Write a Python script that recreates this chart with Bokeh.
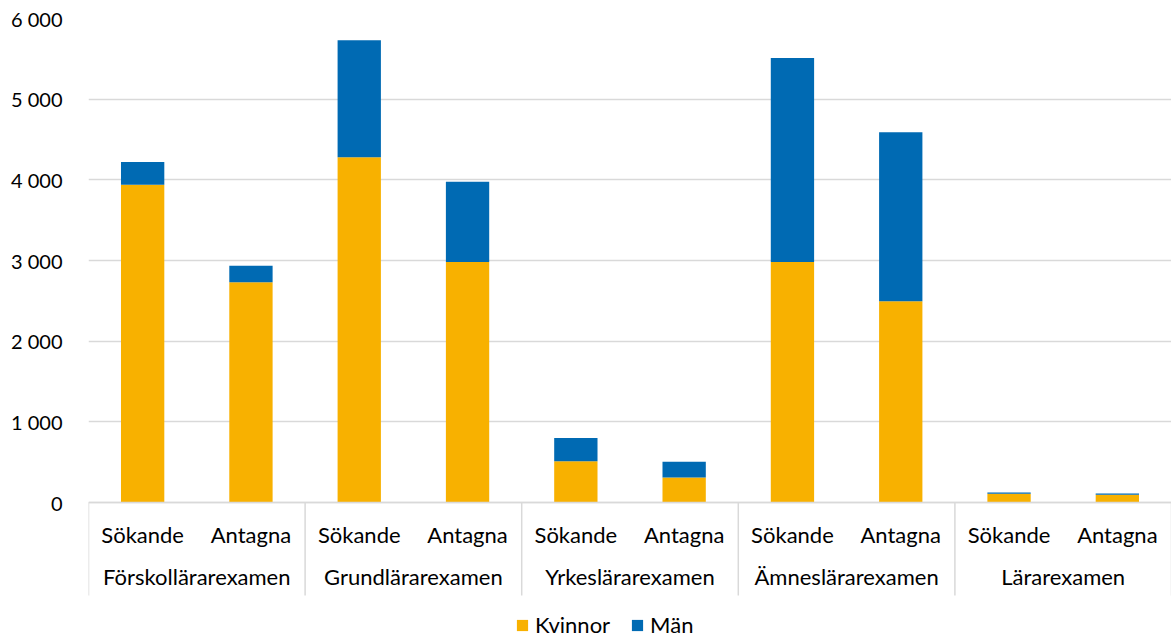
from bokeh.plotting import figure
from bokeh.models import FactorRange, Range1d, FixedTicker, ColumnDataSource
from bokeh.embed import file_html
from bokeh.resources import INLINE

groups = ["Förskollärarexamen", "Grundlärarexamen", "Yrkeslärarexamen", "Ämneslärarexamen", "Lärarexamen"]
subs = ["Sökande", "Antagna"]
kvinnor = [3940, 2730, 4280, 2980, 510, 310, 2980, 2495, 108, 95]
man = [280, 205, 1450, 995, 290, 195, 2530, 2095, 16, 17]
series = ["Kvinnor", "Män"]
colors = ["#F8B100", "#006AB3"]
y_ticks = [0, 1000, 2000, 3000, 4000, 5000, 6000]
y_tick_labels = ["0", "1 000", "2 000", "3 000", "4 000", "5 000", "6 000"]

FONT = "Lato"
FS = "22px"
GRID = "#D9D9D9"

factors = [(g, s) for g in groups for s in subs]
source = ColumnDataSource(data=dict(x=factors, Kvinnor=kvinnor, Män=man))

x_range = FactorRange(factors=factors, range_padding=0, group_padding=0, factor_padding=0)
px_per_unit = 484 / 6000
label_depth = 138 / px_per_unit
p = figure(width=1171, height=640, x_range=x_range,
           y_range=Range1d(-label_depth, 6000),
           output_backend="svg", toolbar_location=None,
           min_border_left=88, min_border_right=0, min_border_top=18, min_border_bottom=0)
p.outline_line_color = None

p.vbar_stack(series, x="x", width=0.4, source=source, color=colors,
             line_color=None, legend_label=series)

# separators below the axis
seps = [(g, subs[0], -0.5) for g in groups] + [(groups[-1], subs[-1], 0.5)]
sep_bottom = -93 / px_per_unit
p.segment(x0=seps, x1=seps, y0=[0] * len(seps), y1=[sep_bottom] * len(seps),
          line_color=GRID, line_width=1.5)

# y axis
ya = p.yaxis[0]
ya.ticker = FixedTicker(ticks=y_ticks)
ya.major_label_overrides = {t: l for t, l in zip(y_ticks, y_tick_labels)}
ya.axis_line_color = None
ya.major_tick_line_color = None
ya.minor_tick_line_color = None
ya.major_label_standoff = 20
ya.major_label_text_font = FONT
ya.major_label_text_font_size = "20px"
ya.major_label_text_color = "black"

p.ygrid.ticker = FixedTicker(ticks=y_ticks)
p.ygrid.grid_line_color = GRID
p.ygrid.grid_line_width = 1.5
p.xgrid.grid_line_color = None

# x axis
xa = p.xaxis[0]
xa.fixed_location = 0
xa.axis_line_color = GRID
xa.axis_line_width = 1.5
xa.major_tick_line_color = None
xa.minor_tick_line_color = None
xa.separator_line_color = None
xa.major_label_standoff = 12
xa.major_label_text_font = FONT
xa.major_label_text_font_size = FS
xa.major_label_text_color = "black"
xa.group_text_font = FONT
xa.group_text_font_size = FS
xa.group_text_font_style = "normal"
xa.group_text_color = "black"

lg = p.legend[0]
lg.orientation = "horizontal"
lg.location = (427, 2)
lg.border_line_color = None
lg.background_fill_alpha = 0
lg.padding = 0
lg.margin = 0
lg.glyph_width = 14
lg.glyph_height = 14
lg.label_standoff = 6
lg.spacing = 20
lg.label_text_font = FONT
lg.label_text_font_size = FS
lg.label_text_color = "black"

open("out.html", "w").write(file_html(p, INLINE))
